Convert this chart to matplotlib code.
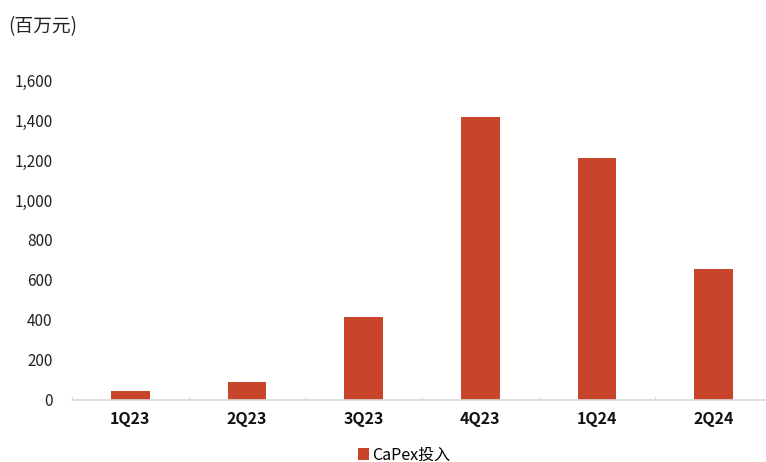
import matplotlib.pyplot as plt
import numpy as np

plt.rcParams['font.family'] = ['Noto Sans CJK SC', 'DejaVu Sans']

quarters = ['1Q23', '2Q23', '3Q23', '4Q23', '1Q24', '2Q24']
capex = [45, 90, 415, 1415, 1210, 655]
bar_color = '#C8442A'

fig = plt.figure(figsize=(7.66, 4.62), dpi=100)
ax = fig.add_axes([72 / 766, 1 - 400 / 462, 700 / 766, 320 / 462])

x = np.arange(len(quarters))
ax.bar(x, capex, width=0.33, color=bar_color, label='CaPex投入')

ax.set_xlim(-0.5, 5.5)
ax.set_ylim(0, 1600)
ax.set_yticks(range(0, 1601, 200))
ax.set_yticklabels([f'{v:,}' for v in range(0, 1601, 200)], fontsize=11, color='#222222')
ax.set_xticks(x)
ax.set_xticklabels(quarters, fontsize=11.5, fontweight='bold', color='#111111')
ax.set_xticks(np.arange(-0.5, 6, 1), minor=True)
ax.tick_params(axis='x', which='major', length=0, pad=8)
ax.tick_params(axis='x', which='minor', length=3, color='#d9d9d9', direction='in')
ax.tick_params(axis='y', length=0, pad=14)

for s in ['top', 'right', 'left']:
    ax.spines[s].set_visible(False)
ax.spines['bottom'].set_color('#d9d9d9')
ax.spines['bottom'].set_linewidth(1.2)

fig.text(8 / 766, 1 - 27 / 462, '(百万元)', fontsize=13.5, va='center', ha='left', color='#222222')

fig.legend(loc='center', bbox_to_anchor=(0.5 + 21 / 766, 1 - 455 / 462), frameon=False,
           handlelength=0.7, handleheight=0.7, handletextpad=0.2, fontsize=11.5)

fig.savefig('out.png', dpi=100)
